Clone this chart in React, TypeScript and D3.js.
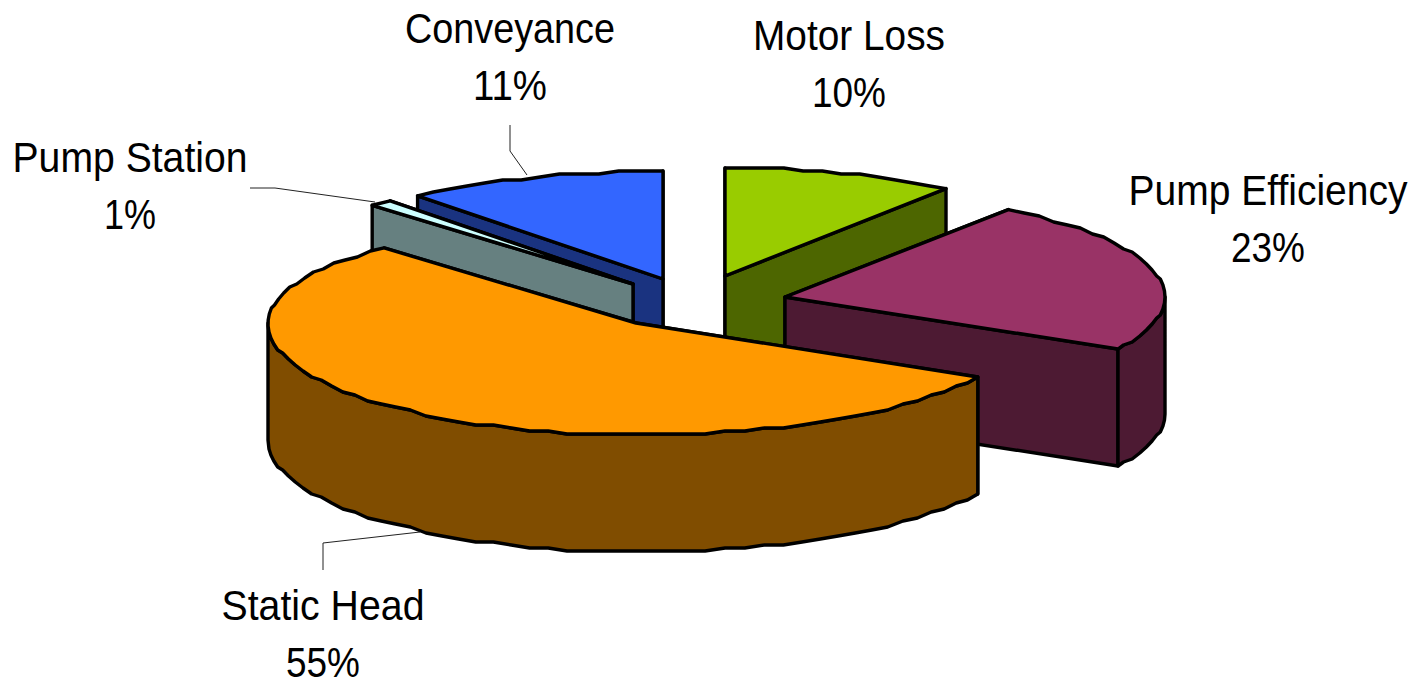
import React from "react";
import * as d3 from "d3";

// Share of total energy lost at each stage, clockwise from twelve o'clock.
const categories = ["Motor Loss", "Pump Efficiency", "Static Head", "Pump Station", "Conveyance"];
const shares = [10, 23, 55, 1, 11];
const topColors = ["#99CC00", "#993366", "#FF9900", "#CCFFFF", "#3366FF"];
const sideColors = ["#4D6600", "#4D1A33", "#804D00", "#668080", "#1A3380"];

// Pull-out position of each wedge's tip and its radii around that tip.
const tipX = [725, 785, 636, 633, 663];
const tipY = [276, 297, 323, 284, 279];
const radiusRight = [376, 380, 390, 376, 376];
const radiusLeft = [376, 378, 368, 381, 385];
const radiusFront = [108, 108, 112, 108, 108];
const radiusBack = [108, 108, 103, 108, 108];
const depth = 117;

// Back-to-front drawing sequence, so nearer wedges cover farther ones.
const paintOrder = [0, 4, 1, 3, 2];

const labelCenterX = [849, 1268, 323, 130, 510];
const labelNameY = [50, 205, 620, 172, 43];
const labelValueY = [107, 262, 677, 229, 100];
const labelNameWidth = [192, 279, 203, 235, 210];
const labelValueWidth = [74, 74, 74, 52, 74];

const leaders = [
  { id: "Conveyance", pts: [[510, 125], [510, 151], [527, 175]] },
  { id: "Pump Station", pts: [[250, 188], [275, 188], [375, 202]] },
  { id: "Static Head", pts: [[323, 570], [323, 543], [420, 532]] },
];

const FONT = "'Liberation Sans', Arial, sans-serif";
const STEP = (3 * Math.PI) / 180;
const GRID = 3;

type Pt = [number, number];
const snap = (v: number) => Math.round(v / GRID) * GRID;

export default function App() {
  const arcs = d3.pie<number>().sort(null).value((d) => d)(shares);
  const path = d3.line<Pt>();

  // Ellipse rim of wedge i at a clockwise angle from the top. Rim points fall on a
  // coarse raster in y, which gives the outline its faceted look.
  const rim = (i: number, a: number, raster = true): Pt => {
    const sin = Math.sin(a);
    const rx = sin >= 0 ? radiusRight[i] : radiusLeft[i];
    const x = d3.scaleLinear().domain([-1, 1]).range([tipX[i] - rx, tipX[i] + rx])(sin);
    const y = d3.scaleLinear().domain([-1, 0, 1]).range([tipY[i] + radiusFront[i], tipY[i], tipY[i] - radiusBack[i]])(Math.cos(a));
    return [x, raster ? snap(y - tipY[i]) + tipY[i] : y];
  };

  const rimPoints = (i: number, a0: number, a1: number): Pt[] => {
    const mid = d3.range(a0 + STEP, a1 - STEP / 2, STEP).map((a) => rim(i, a));
    return [rim(i, a0, false), ...mid, rim(i, a1, false)];
  };

  const down = (pts: Pt[]): Pt[] => pts.map(([x, y]) => [x, y + depth] as Pt);

  return (
    <svg
      width={1428}
      height={680}
      style={{ position: "absolute", left: 0, top: 0, background: "#fff" }}
      fontFamily={FONT}
    >
      {paintOrder.map((i) => {
        const { startAngle: a0, endAngle: a1 } = arcs[i];
        const tip: Pt = [tipX[i], tipY[i]];
        const rimTop = rimPoints(i, a0, a1);
        const wallLo = Math.max(a0, Math.PI / 2);
        const wallHi = Math.min(a1, (3 * Math.PI) / 2);
        const wallTop = wallHi > wallLo ? rimPoints(i, wallLo, wallHi) : [];
        const startEdge = [tip, rim(i, a0, false)] as Pt[];
        const endEdge = [tip, rim(i, a1, false)] as Pt[];
        const common = { stroke: "#000", strokeWidth: 3.4, strokeLinejoin: "round" as const };
        // On the left half the start face looks toward the viewer, on the right the end face.
        const leftHalf = Math.sin((a0 + a1) / 2) < 0;
        const faces = leftHalf ? [endEdge, startEdge] : [startEdge, endEdge];
        return (
          <g key={categories[i]}>
            {faces.map((edge, k) => (
              <path key={k} d={path([...edge, ...down(edge).reverse()]) + "Z"} fill={sideColors[i]} {...common} />
            ))}
            {wallTop.length > 0 && (
              <path d={path([...wallTop, ...down(wallTop).reverse()]) + "Z"} fill={sideColors[i]} {...common} />
            )}
            <path d={path([tip, ...rimTop]) + "Z"} fill={topColors[i]} {...common} />
          </g>
        );
      })}

      {leaders.map((l) => (
        <path key={l.id} d={path(l.pts as Pt[]) ?? ""} fill="none" stroke="#222" strokeWidth={1} />
      ))}

      {categories.map((name, i) => (
        <g key={name} fill="#000" fontSize={42} textAnchor="middle">
          <text x={labelCenterX[i]} y={labelNameY[i]} textLength={labelNameWidth[i]} lengthAdjust="spacingAndGlyphs">
            {name}
          </text>
          <text x={labelCenterX[i]} y={labelValueY[i]} textLength={labelValueWidth[i]} lengthAdjust="spacingAndGlyphs">
            {`${shares[i]}%`}
          </text>
        </g>
      ))}
    </svg>
  );
}
